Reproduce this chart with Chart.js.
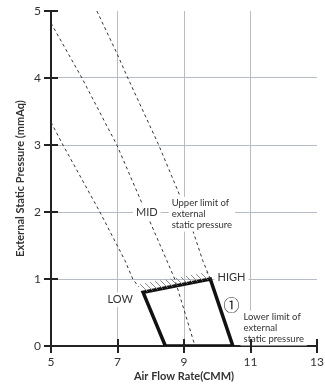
<!DOCTYPE html>
<html>
<head>
<meta charset="utf-8">
<script src="https://cdn.jsdelivr.net/npm/chart.js@4.4.1/dist/chart.umd.min.js"></script>
<style>
  html, body { margin: 0; padding: 0; background: #fff; }
</style>
</head>
<body>
<canvas id="fanChart" width="325" height="389"></canvas>
<script>
// axis ticks
const xTicks = [5, 7, 9, 11, 13];
const yTicks = [0, 1, 2, 3, 4, 5];

// fan curves (dashed)
const lowCurveX = [5, 5.36, 6.47, 7.22, 7.46, 7.64];
const lowCurveY = [3.34, 3, 2, 1.28, 1, 0.88];
const midCurveX = [5, 5.93, 6.98, 7.85, 8.48, 8.72, 9.33];
const midCurveY = [4.82, 4, 3, 2, 1.28, 1, 0];
const highCurveX = [6.38, 6.98, 7.31, 8.24, 9.08, 9.56, 9.79];
const highCurveY = [5, 4.37, 4, 3, 2, 1.28, 1.0];

// operating range (1)
const rangeX = [8.44, 7.77, 9.79, 10.47, 8.44];
const rangeY = [0, 0.8, 1.0, 0, 0];

// hatched band on the upper limit
const hatchX = [7.77, 9.79, 9.69, 7.62, 7.77];
const hatchY = [0.8, 1.0, 1.1, 0.92, 0.8];

// text notes, anchored in data units
const notes = [
  { lines: ['MID'], x: 7.88, y: 2, align: 'center', size: 11 },
  { lines: ['Upper limit of', 'external', 'static pressure'], x: 8.63, y: 2.13, align: 'left', size: 9.5 },
  { lines: ['HIGH'], x: 10.01, y: 1.02, align: 'left', size: 11 },
  { lines: ['LOW'], x: 7.46, y: 0.69, align: 'right', size: 11 },
  { lines: ['Lower limit of', 'external', 'static pressure'], x: 10.79, y: 0.43, align: 'left', size: 9.5 }
];

const toPoints = (xs, ys) => xs.map((v, i) => ({ x: v, y: ys[i] }));

// diagonal hatch pattern
function hatchPattern() {
  const c = document.createElement('canvas');
  c.width = 6; c.height = 6;
  const g = c.getContext('2d');
  g.strokeStyle = '#8a8a8a';
  g.lineWidth = 1;
  g.beginPath();
  g.moveTo(-1, -1); g.lineTo(7, 7);
  g.moveTo(5, -1); g.lineTo(7, 1);
  g.moveTo(-1, 5); g.lineTo(1, 7);
  g.stroke();
  return g.createPattern(c, 'repeat');
}

const noteLabels = {
  id: 'noteLabels',
  afterDatasetsDraw(chart) {
    const { ctx, scales: { x, y } } = chart;
    ctx.save();
    notes.forEach(n => {
      ctx.font = n.size + 'px Lato';
      const lh = n.size * 1.15;
      const w = Math.max(...n.lines.map(t => ctx.measureText(t).width));
      const px = x.getPixelForValue(n.x);
      const py = y.getPixelForValue(n.y);
      let left = n.align === 'center' ? px - w / 2 : n.align === 'right' ? px - w : px;
      const top = py - lh / 2;
      ctx.fillStyle = '#fff';
      ctx.fillRect(left - 3, top - 1, w + 6, lh * n.lines.length + 2);
      ctx.fillStyle = '#333';
      ctx.textBaseline = 'middle';
      ctx.textAlign = 'left';
      n.lines.forEach((t, i) => ctx.fillText(t, left, py + i * lh));
    });
    // circled 1 marker
    ctx.font = '16px "Noto Sans CJK JP"';
    ctx.textAlign = 'center';
    ctx.textBaseline = 'middle';
    ctx.fillStyle = '#222';
    ctx.fillText('①', x.getPixelForValue(10.43), y.getPixelForValue(0.61));
    ctx.restore();
  }
};

// tick marks crossing both axes
const axisCrosses = {
  id: 'axisCrosses',
  afterDraw(chart) {
    const { ctx, scales: { x, y } } = chart;
    const x0 = x.getPixelForValue(5);
    const y0 = y.getPixelForValue(0);
    ctx.save();
    ctx.strokeStyle = '#222';
    ctx.lineWidth = 2;
    ctx.beginPath();
    xTicks.forEach(v => {
      const px = Math.round(x.getPixelForValue(v));
      ctx.moveTo(px, y0 - 7); ctx.lineTo(px, y0 + 7);
    });
    yTicks.forEach(v => {
      const py = Math.round(y.getPixelForValue(v));
      ctx.moveTo(x0 - 7, py); ctx.lineTo(x0 + 7, py);
    });
    ctx.stroke();
    ctx.restore();
  }
};

Chart.defaults.font.family = 'Lato';
Chart.defaults.color = '#333';

const dashed = { showLine: true, pointRadius: 0, borderColor: '#333', borderWidth: 1, borderDash: [3, 3], fill: false };

new Chart(document.getElementById('fanChart'), {
  type: 'scatter',
  data: {
    datasets: [
      { ...dashed, data: toPoints(lowCurveX, lowCurveY) },
      { ...dashed, data: toPoints(midCurveX, midCurveY) },
      { ...dashed, data: toPoints(highCurveX, highCurveY) },
      { data: toPoints(hatchX, hatchY), showLine: true, pointRadius: 0, borderWidth: 0,
        borderColor: 'rgba(0,0,0,0)', backgroundColor: hatchPattern(), fill: 'shape' },
      { data: toPoints(rangeX, rangeY), showLine: true, pointRadius: 0, borderColor: '#111',
        borderWidth: 3.5, borderJoinStyle: 'miter', fill: false }
    ]
  },
  options: {
    responsive: false,
    animation: false,
    devicePixelRatio: 1,
    layout: { padding: 0 },
    plugins: { legend: { display: false }, tooltip: { enabled: false } },
    scales: {
      x: {
        type: 'linear', min: 5, max: 13,
        afterFit: s => { s.height = 43; s.paddingLeft = 0; s.paddingRight = 8; },
        ticks: { stepSize: 2, padding: 9, font: { size: 12 }, color: '#333' },
        grid: {
          drawTicks: false,
          color: c => (c.tick && (c.tick.value === 5 || c.tick.value === 13)) ? 'rgba(0,0,0,0)' : '#b5bcc7'
        },
        border: { color: '#222', width: 2 },
        title: { display: true, text: 'Air Flow Rate(CMM)', font: { size: 11, weight: 'bold' }, color: '#333', padding: { top: 0, bottom: 6 } }
      },
      y: {
        type: 'linear', min: 0, max: 5,
        afterFit: s => { s.width = 51; s.paddingTop = 11; s.paddingBottom = 0; },
        ticks: { stepSize: 1, padding: 10, font: { size: 12 }, color: '#333' },
        grid: {
          drawTicks: false,
          color: c => (c.tick && (c.tick.value === 0 || c.tick.value === 5)) ? 'rgba(0,0,0,0)' : '#b5bcc7'
        },
        border: { color: '#222', width: 2 },
        title: { display: true, text: 'External Static Pressure (mmAq)', font: { size: 11, weight: 'bold' }, color: '#333', padding: { top: 14, bottom: 0 } }
      }
    }
  },
  plugins: [noteLabels, axisCrosses]
});
</script>
</body>
</html>
